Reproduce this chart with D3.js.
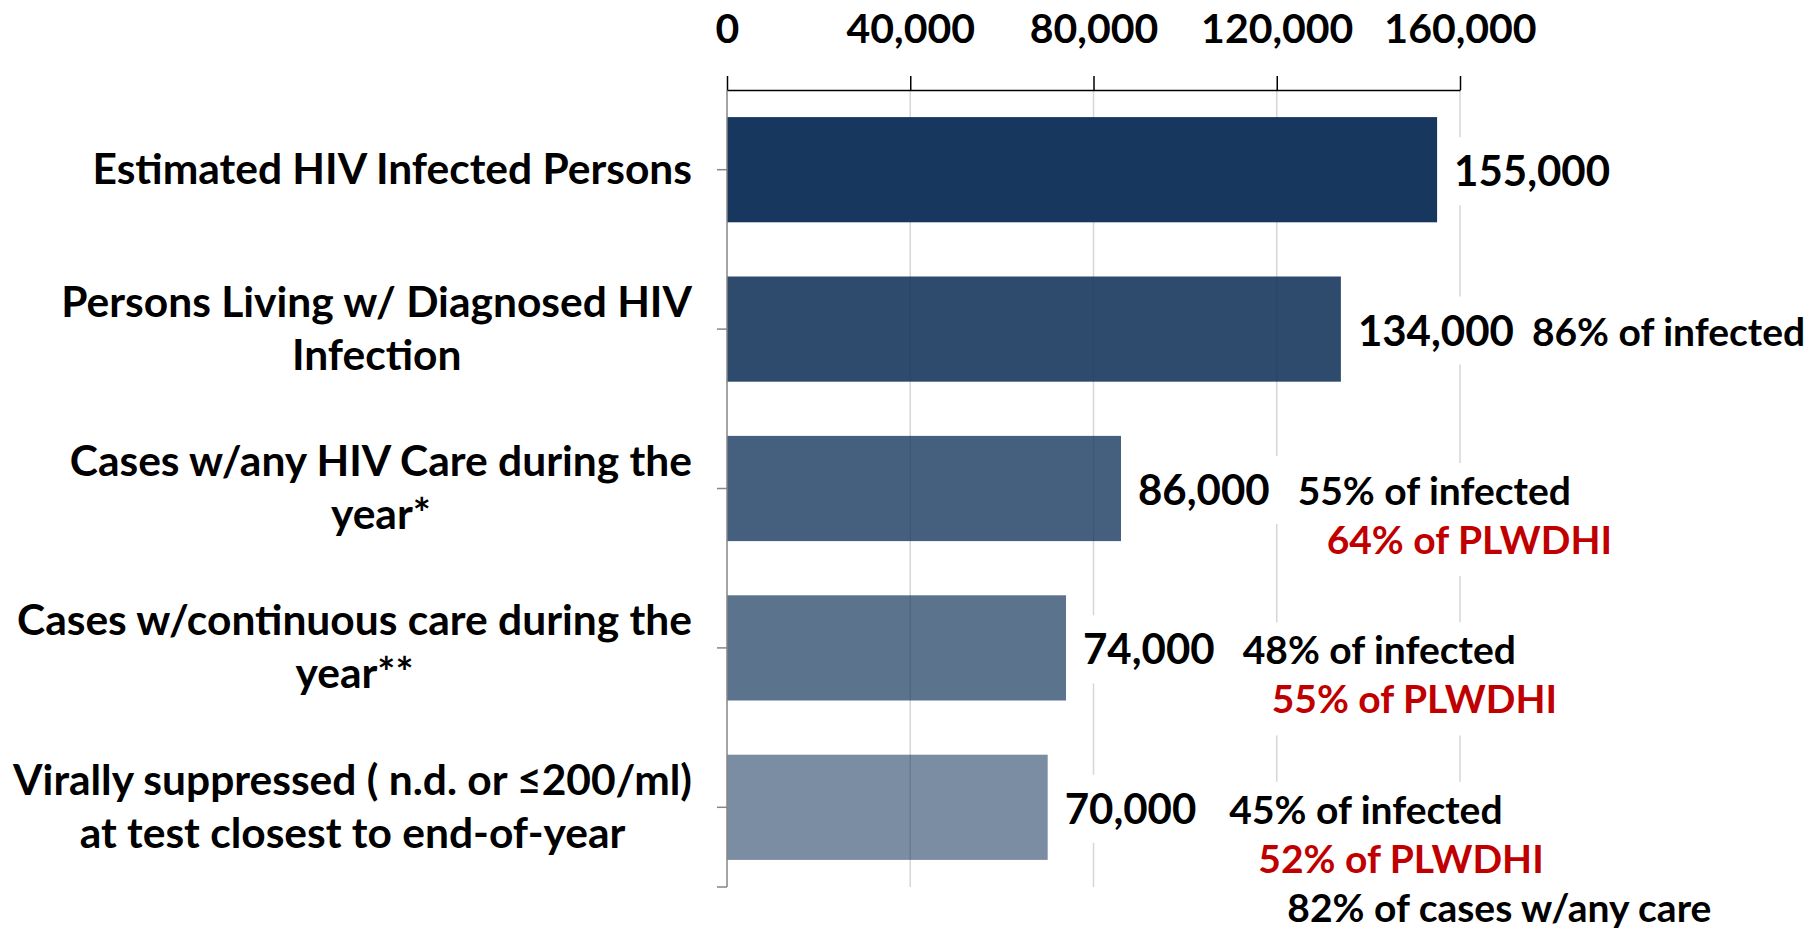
<!DOCTYPE html>
<html><head><meta charset="utf-8">
<script src="https://cdn.jsdelivr.net/npm/d3@7"></script>
<style>
body{margin:0;background:#fff}
svg{display:block}
text{font-family:Lato,'Open Sans',sans-serif;font-weight:700}
</style>
</head><body>
<svg id="c" width="1809" height="934"></svg>
<script>
// ---- data ----
const categories = [
  "Estimated HIV Infected Persons",
  "Persons Living w/ Diagnosed HIV\nInfection",
  "Cases w/any HIV Care during the\nyear*",
  "Cases w/continuous care during the\nyear**",
  "Virally suppressed ( n.d. or \u2264200/ml)\nat test closest to end-of-year"
];
const values = [155000, 134000, 86000, 74000, 70000];
const tickValues = [0, 40000, 80000, 120000, 160000];
const pctInfected = ["", "86% of infected", "55% of infected", "48% of infected", "45% of infected"];
const pctPLWDHI   = ["", "", "64% of PLWDHI", "55% of PLWDHI", "52% of PLWDHI"];
const pctCare     = ["", "", "", "", "82% of cases w/any care"];

// ---- style ----
const barOpacity = [1, 0.9, 0.8, 0.7, 0.57];
const annGap = [28, 18, 28, 28, 33];
const FS_TICK = 41, FS_VAL = 42, FS_CAT = 42.5, FS_ANN = 39;

const svg = d3.select("#c");
const x = d3.scaleLinear().domain([0, 160000]).range([727, 1460]);
const y = d3.scaleBand().domain(d3.range(categories.length)).range([90, 887])
  .paddingInner(0.34).paddingOuter(0.17);
const cy = i => y(i) + y.bandwidth() / 2;

// gridlines
svg.append("g").selectAll("line").data(tickValues.filter(d => d > 0)).join("line")
  .attr("x1", d => x(d)).attr("x2", d => x(d)).attr("y1", 90).attr("y2", 887)
  .attr("stroke", "#d6d6d6").attr("stroke-width", 1.5);

// bars
svg.append("g").selectAll("rect").data(values).join("rect")
  .attr("x", x(0)).attr("y", (d, i) => y(i))
  .attr("width", d => x(d) - x(0)).attr("height", y.bandwidth())
  .attr("fill", "#17375e").attr("fill-opacity", (d, i) => barOpacity[i]);

// y axis line and ticks
const ya = svg.append("g");
ya.append("line").attr("x1", x(0)).attr("x2", x(0)).attr("y1", 90).attr("y2", 887)
  .attr("stroke", "#868686").attr("stroke-width", 1.5);
ya.selectAll("line.t").data(d3.range(categories.length).map(cy).concat([887])).join("line")
  .attr("class", "t").attr("x1", x(0) - 10).attr("x2", x(0)).attr("y1", d => d).attr("y2", d => d)
  .attr("stroke", "#868686").attr("stroke-width", 1.5);

// x axis (top)
const xa = svg.append("g").attr("transform", "translate(0,90)")
  .call(d3.axisTop(x).tickValues(tickValues).tickSize(14).tickSizeOuter(0)
    .tickPadding(33).tickFormat(d3.format(",")));
xa.select(".domain").attr("stroke", "#000").attr("stroke-width", 1.5);
xa.selectAll(".tick line").attr("stroke", "#000").attr("stroke-width", 1.5);
xa.selectAll(".tick text").attr("fill", "#000").attr("font-size", FS_TICK)
  .attr("font-family", "Lato,'Open Sans',sans-serif").attr("font-weight", 700).attr("dy", "0");

// category labels
categories.forEach((c, i) => {
  const lines = c.split("\n");
  const g = svg.append("g");
  const ts = lines.map((l, k) => g.append("text").text(l)
    .attr("font-size", FS_CAT).attr("fill", "#000").attr("text-anchor", "middle")
    .attr("y", cy(i) + 14 - (lines.length - 1) * 53 / 2 + k * 53));
  const w = d3.max(ts, t => t.node().getComputedTextLength());
  ts.forEach(t => t.attr("x", 692 - w / 2));
});

// value labels + annotations
values.forEach((v, i) => {
  const base = cy(i) + 16.5;
  const g = svg.append("g");
  const bg = g.append("rect").attr("fill", "#fff");
  const t = g.append("text").text(d3.format(",")(v)).attr("x", x(v) + 17).attr("y", base)
    .attr("font-size", FS_VAL).attr("fill", "#000");
  const w = t.node().getComputedTextLength();
  bg.attr("x", x(v) + 17 - 12).attr("y", base - 49).attr("width", w + 24).attr("height", 68);

  const lines = [[pctInfected[i], "#000"], [pctPLWDHI[i], "#c00000"], [pctCare[i], "#000"]]
    .filter(d => d[0]);
  if (!lines.length) return;
  const ag = svg.append("g");
  const abg = ag.append("rect").attr("fill", "#fff");
  const x0 = x(v) + 17 + w + annGap[i];
  let right = 0;
  lines.forEach((l, k) => {
    const tt = ag.append("text").text(l[0]).attr("x", x0 + 29 * k).attr("y", base + 49 * k)
      .attr("font-size", FS_ANN).attr("fill", l[1]);
    right = Math.max(right, x0 + 29 * k + tt.node().getComputedTextLength());
  });
  abg.attr("x", x0 - 8).attr("y", base - 42).attr("width", right - x0 + 16)
    .attr("height", 42 + 49 * (lines.length - 1) + 22);
});
</script>
</body></html>
